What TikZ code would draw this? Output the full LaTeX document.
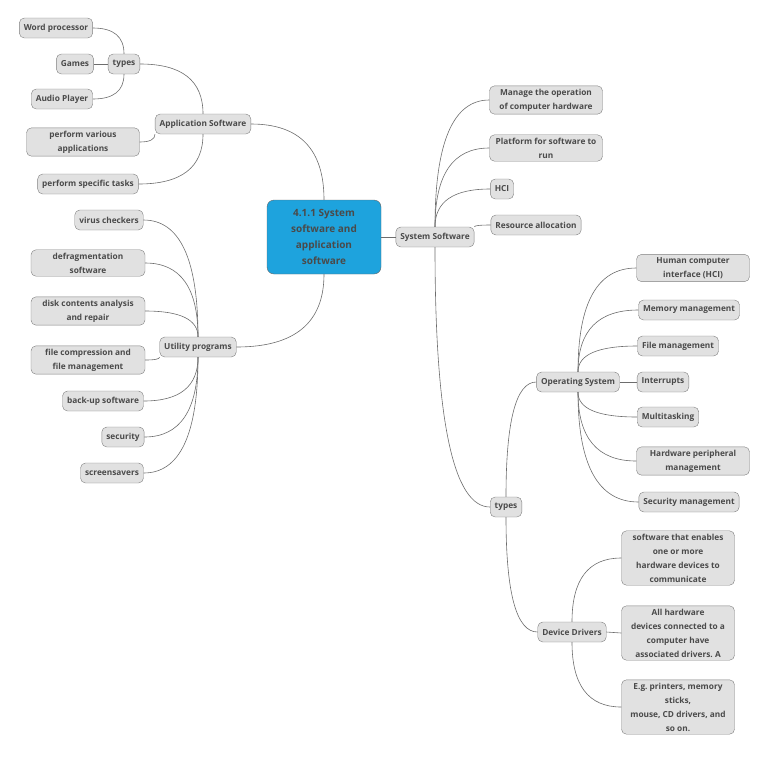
\documentclass[tikz,border=0pt]{standalone}
\usepackage{fontspec}
\setmainfont{Open Sans}
\usetikzlibrary{calc}
\frenchspacing
\definecolor{boxgray}{HTML}{E1E1E1}
\definecolor{edgegray}{HTML}{808080}
\definecolor{txtgray}{HTML}{4A4A4A}
\definecolor{rootblue}{HTML}{1EA3DD}
\begin{document}
\begin{tikzpicture}[x=1pt,y=-1pt]

    \tikzset{
      topic/.style={
        draw=edgegray,
        fill=boxgray,
        rounded corners=5pt,
        text=txtgray,
        font=\bfseries\fontsize{8.3}{14}\selectfont,
        align=center,
        inner xsep=4.5pt,
        inner ysep=3pt,
        minimum height=20pt,
      },
      central/.style={
        draw=edgegray!80!black,
        fill=rootblue,
        rounded corners=7pt,
        text=txtgray,
        font=\bfseries\fontsize{10}{16}\selectfont,
        align=center,
        minimum width=114pt,
        minimum height=74pt,
      },
      branch/.style={
        draw=edgegray!85!black,
        line width=0.6pt,
      },
      elbow/.style={
        to path={.. controls ($(\tikztostart)!0.667!(\tikztostart |- \tikztotarget)$)
          and ($(\tikztotarget)!0.667!(\tikztostart |- \tikztotarget)$) .. (\tikztotarget)},
      },
    }
    \useasboundingbox (0,0) rectangle (768,756);

	\node[central] (root) at (324,237) {4.1.1 System\\software and\\application\\software};

	\node[topic] (appsw) at (203,124) {Application Software};
	\node[topic] (apptypes) at (124,64) {types};
	\node[topic] (wordproc) at (56,28) {Word processor};
	\node[topic] (games) at (75,64) {Games};
	\node[topic] (audio) at (62,99) {Audio Player};
	\node[topic, minimum width=113pt] (various) at (83,142) {perform various\\applications};
	\node[topic] (specific) at (88,184) {perform specific tasks};

	\node[topic] (utility) at (198,347) {Utility programs};
	\node[topic] (virus) at (109,220) {virus checkers};
	\node[topic, minimum width=114pt] (defrag) at (88,263) {defragmentation\\software};
	\node[topic, minimum width=114pt] (diskanalysis) at (88,311) {disk contents analysis\\and repair};
	\node[topic, minimum width=114pt] (filecomp) at (88,360) {file compression and\\file management};
	\node[topic] (backup) at (103,401) {back-up software};
	\node[topic] (security) at (123,437) {security};
	\node[topic] (screensavers) at (112,473) {screensavers};

	\node[topic] (syssw) at (435,237) {System Software};
	\node[topic, minimum width=113pt] (manage) at (546,100) {Manage the operation\\of computer hardware};
	\node[topic, minimum width=113pt] (platform) at (546,148) {Platform for software to\\run};
	\node[topic] (hci) at (502,189) {HCI};
	\node[topic] (resource) at (536,225) {Resource allocation};
	\node[topic] (systypes) at (506,507) {types};

	\node[topic] (os) at (578,382) {Operating System};
	\node[topic, minimum width=113pt] (hcifull) at (693,268) {Human computer\\interface (HCI)};
	\node[topic] (memory) at (689,310) {Memory management};
	\node[topic] (filemgmt) at (678,346) {File management};
	\node[topic] (interrupts) at (663,382) {Interrupts};
	\node[topic] (multitask) at (668,417) {Multitasking};
	\node[topic, minimum width=113pt] (hwperiph) at (693,461) {Hardware peripheral\\management};
	\node[topic] (secmgmt) at (689,502) {Security management};

	\node[topic] (drivers) at (572,632) {Device Drivers};
	\node[topic, minimum width=113pt] (enables) at (678,558) {software that enables\\one or more\\hardware devices to\\communicate};
	\node[topic, minimum width=113pt] (alldevices) at (678,633) {All hardware\\devices connected to a\\computer have\\associated drivers. A};
	\node[topic, minimum width=113pt] (examples) at (678,707) {E.g. printers, memory\\sticks,\\mouse, CD drivers, and\\so on.};

	\draw[branch] (root.north) to[elbow] (appsw.east);
	\draw[branch] (root.south) to[elbow] (utility.east);
	\draw[branch] (root.east) -- (syssw.west);

	\draw[branch] (appsw.north) to[elbow] (apptypes.east);
	\draw[branch] (appsw.south west) to[elbow] (various.east);
	\draw[branch] (appsw.south) to[elbow] (specific.east);
	\draw[branch] (apptypes.north) to[elbow] (wordproc.east);
	\draw[branch] (apptypes.west) -- (games.east);
	\draw[branch] (apptypes.south) to[elbow] (audio.east);

	\draw[branch] (utility.north) to[elbow] (virus.east);
	\draw[branch] (utility.north) to[elbow] (defrag.east);
	\draw[branch] (utility.north) to[elbow] (diskanalysis.east);
	\draw[branch] (utility.south west) to[elbow] (filecomp.east);
	\draw[branch] (utility.south) to[elbow] (backup.east);
	\draw[branch] (utility.south) to[elbow] (security.east);
	\draw[branch] (utility.south) to[elbow] (screensavers.east);

	\draw[branch] (syssw.north) to[elbow] (manage.west);
	\draw[branch] (syssw.north) to[elbow] (platform.west);
	\draw[branch] (syssw.north) to[elbow] (hci.west);
	\draw[branch] (syssw.north east) to[elbow] (resource.west);
	\draw[branch] (syssw.south) to[elbow] (systypes.west);

	\draw[branch] (systypes.north) to[elbow] (os.west);
	\draw[branch] (systypes.south) to[elbow] (drivers.west);

	\draw[branch] (os.north) to[elbow] (hcifull.west);
	\draw[branch] (os.north) to[elbow] (memory.west);
	\draw[branch] (os.north) to[elbow] (filemgmt.west);
	\draw[branch] (os.east) -- (interrupts.west);
	\draw[branch] (os.south) to[elbow] (multitask.west);
	\draw[branch] (os.south) to[elbow] (hwperiph.west);
	\draw[branch] (os.south) to[elbow] (secmgmt.west);

	\draw[branch] (drivers.north) to[elbow] (enables.west);
	\draw[branch] (drivers.east) -- (alldevices.west);
	\draw[branch] (drivers.south) to[elbow] (examples.west);

\end{tikzpicture}
\end{document}
